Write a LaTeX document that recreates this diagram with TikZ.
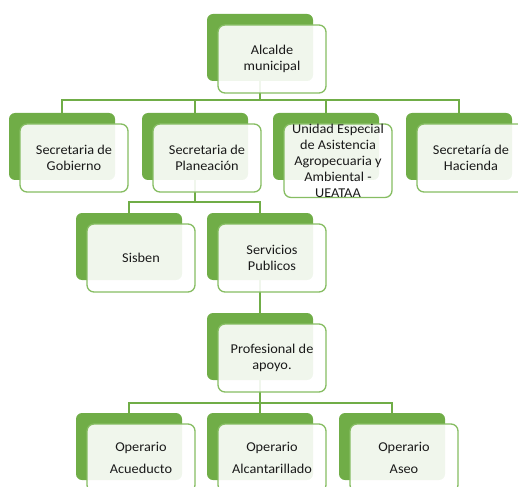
\documentclass[tikz,border=0pt]{standalone}
\usepackage{fontspec}
\setmainfont{Carlito}[FakeStretch=1.06]
\usetikzlibrary{calc,backgrounds}
\definecolor{gback}{HTML}{70AD47}
\definecolor{gedge}{HTML}{86BD62}
\definecolor{txt}{HTML}{1A1A1A}
\tikzset{
  backbox/.style={fill=gback, draw=none, rounded corners=6pt, minimum width=106pt, minimum height=67pt, inner sep=0pt, outer sep=0pt, anchor=north west},
  frontbox/.style={fill=white, fill opacity=0.9, text opacity=1, draw=gedge, line width=1.3pt, rounded corners=7pt, minimum width=108pt, minimum height=68pt, inner sep=0pt, outer sep=0pt, anchor=north west, align=center, text=txt, font=\fontsize{13.5}{16}\selectfont},
  wide/.style={font=\fontsize{13.5}{22}\selectfont},
  conn/.style={draw=gback, line width=1.6pt}
}
\newcommand\orgbox[5][]{%
  \node[backbox] (#2-b) at (#3,#4) {};
  \node[frontbox,#1] (#2) at ($(#2-b.north west)+(11,11)$) {#5};
}
\begin{document}
\begin{tikzpicture}[x=1pt,y=-1pt]
\useasboundingbox (0,0) rectangle (518,486);
% bus coordinates
\coordinate (bus1) at (260,100);
\coordinate (bus2) at (195,202);
\coordinate (bus3) at (260,403);
% boxes
\orgbox{alc}{207}{14}{Alcalde\\municipal}
\orgbox{gob}{9}{113}{Secretaria de\\Gobierno}
\orgbox{plan}{142}{113}{Secretaria de\\Planeación}
\orgbox{uea}{273}{113}{Unidad Especial\\de Asistencia\\Agropecuaria y\\Ambiental -\\UEATAA}
\orgbox{hac}{406}{113}{Secretaría de\\Hacienda}
\orgbox{sis}{76}{213}{Sisben}
\orgbox{serv}{207}{213}{Servicios\\Publicos}
\orgbox{prof}{207}{313}{Profesional de\\apoyo.}
\orgbox[wide]{acu}{76}{413}{Operario\\Acueducto}
\orgbox[wide]{alca}{207}{413}{Operario\\Alcantarillado}
\orgbox[wide]{aseo}{339}{413}{Operario\\Aseo}
% connectors, on the background layer
\begin{scope}[on background layer]
\draw[conn] (alc-b.center) -- (bus1);
\draw[conn] (gob-b.north) |- (bus1);
\draw[conn] (plan-b.north) |- (bus1);
\draw[conn] (uea-b.north) |- (bus1);
\draw[conn] (hac-b.north) |- (bus1);
\draw[conn] (plan-b.center) -- (bus2);
\draw[conn] (sis-b.north) |- (bus2);
\draw[conn] (serv-b.north) |- (bus2);
\draw[conn] (serv-b.center) -- (prof-b.center);
\draw[conn] (prof-b.center) -- (bus3);
\draw[conn] (acu-b.north) |- (bus3);
\draw[conn] (alca-b.north) |- (bus3);
\draw[conn] (aseo-b.north) |- (bus3);
\end{scope}
\end{tikzpicture}
\end{document}
